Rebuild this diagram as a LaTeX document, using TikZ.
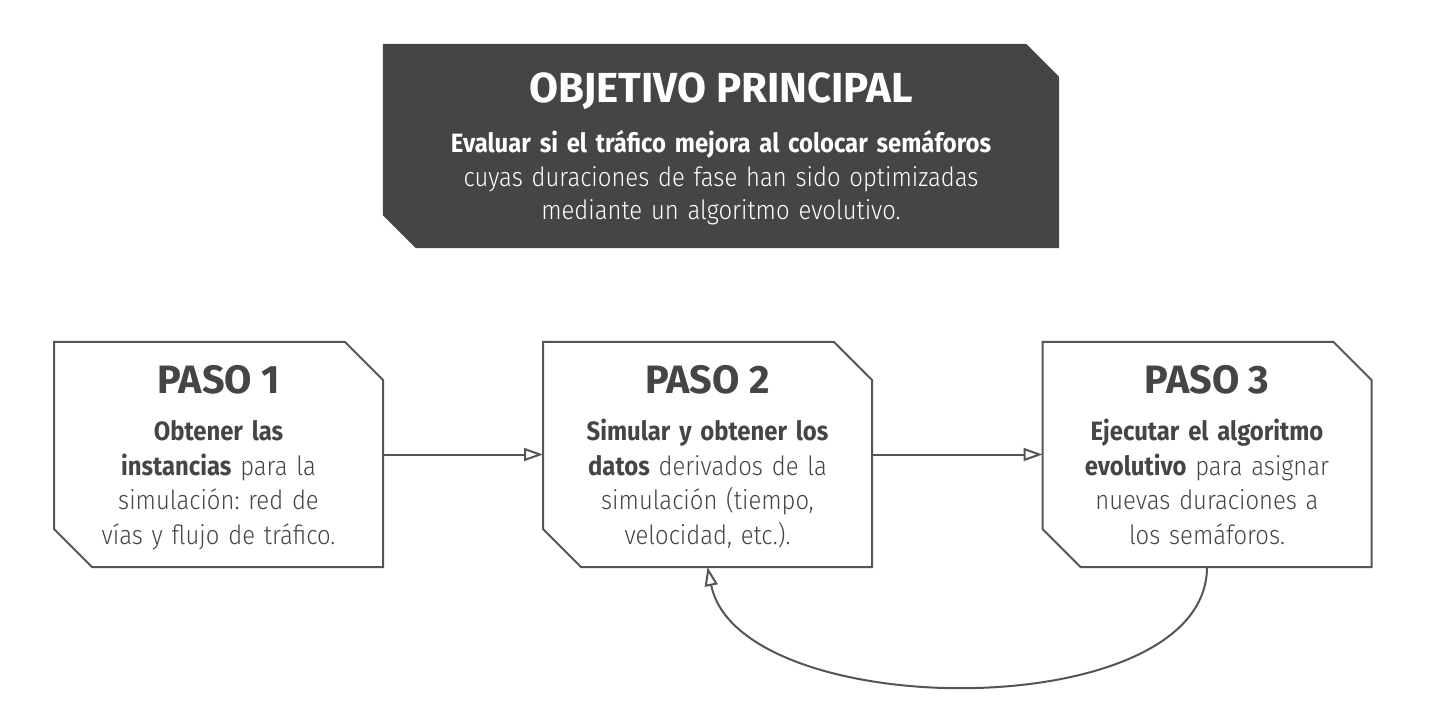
\documentclass[tikz,border=0pt]{standalone}
\usepackage{fontspec}
\IfFontExistsTF{Fira Sans Light}{%
  \setmainfont{Fira Sans Light}[BoldFont={Fira Sans Bold},FakeStretch=0.9]}{%
  \setmainfont{Fira Sans}[FakeStretch=0.9]}
\newfontfamily\headfont{Fira Sans Bold}
\usetikzlibrary{arrows.meta}
\frenchspacing
\definecolor{boxgray}{HTML}{454545}
\definecolor{linegray}{HTML}{555555}
\definecolor{textgray}{HTML}{454545}
\tikzset{
  stepbox/.style={minimum width=329pt, minimum height=225pt, inner sep=0pt, outer sep=0pt},
  stepline/.style={draw=linegray, line width=2pt},
  steptitle/.style={text=textgray, font=\headfont\fontsize{39.6}{40}\selectfont, inner sep=0pt},
  steptext/.style={text=textgray, font=\fontsize{26.5}{34.5}\selectfont, text width=320pt, align=center, inner sep=0pt},
  flow/.style={draw=linegray, line width=2pt, -{Triangle[open, length=19pt, width=13pt]}},
}
\begin{document}
\begin{tikzpicture}[x=1pt, y=-1pt]
    \useasboundingbox (0,0) rectangle (1436,703);

    % Objective box
    \node[minimum width=676pt, minimum height=204pt, inner sep=0pt] (obj) at (721,146) {};
    \fill[boxgray] (obj.north west) -- ([xshift=-33pt]obj.north east) -- ([yshift=-33pt]obj.north east)
        -- (obj.south east) -- ([xshift=33pt]obj.south west) -- ([yshift=33pt]obj.south west) -- cycle;
    \node[text=white, font=\headfont\fontsize{42}{42}\selectfont, inner sep=0pt, anchor=base] (objtitle) at (721,102.7) {OBJETIVO PRINCIPAL};
    \node[text=white, font=\fontsize{26.5}{33.5}\selectfont, text width=640pt, align=center, inner sep=0pt, anchor=base] (objtext) at (721,153)
        {\textbf{Evaluar si el tráfico mejora al colocar semáforos}\\ cuyas duraciones de fase han sido optimizadas\\ mediante un algoritmo evolutivo.};

    % Steps
    \node[stepbox] (s1) at (218.5,454.5) {};
    \node[stepbox] (s2) at (707.5,454.5) {};
    \node[stepbox] (s3) at (1207,454.5) {};
    \foreach \b in {s1,s2,s3}{
        \draw[stepline] (\b.north west) -- ([xshift=-38pt]\b.north east) -- ([yshift=-38pt]\b.north east)
            -- (\b.south east) -- ([xshift=38pt]\b.south west) -- ([yshift=38pt]\b.south west) -- cycle;
    }

    \node[steptitle, anchor=base] (t1) at (218.5,394) {PASO 1};
    \node[steptitle, anchor=base] (t2) at (707.5,394) {PASO 2};
    \node[steptitle, anchor=base] (t3) at (1207,394) {PASO 3};

    \node[steptext, anchor=base] (d1) at (218.5,440.7) {\textbf{Obtener las}\\ \textbf{instancias} para la\\ simulación: red de\\ vías y flujo de tráfico.};
    \node[steptext, anchor=base] (d2) at (707.5,440.7) {\textbf{Simular y obtener los}\\ \textbf{datos} derivados de la\\ simulación (tiempo,\\ velocidad, etc.).};
    \node[steptext, anchor=base] (d3) at (1207,440.7) {\textbf{Ejecutar el algoritmo}\\ \textbf{evolutivo} para asignar\\ nuevas duraciones a\\ los semáforos.};

    % Arrows
    \draw[flow] (s1.east) -- (s2.west);
    \draw[flow] (s2.east) -- (s3.west);
    \draw[flow] (s3.south) .. controls +(0,160) and +(32,157) .. (s2.south);
\end{tikzpicture}
\end{document}
